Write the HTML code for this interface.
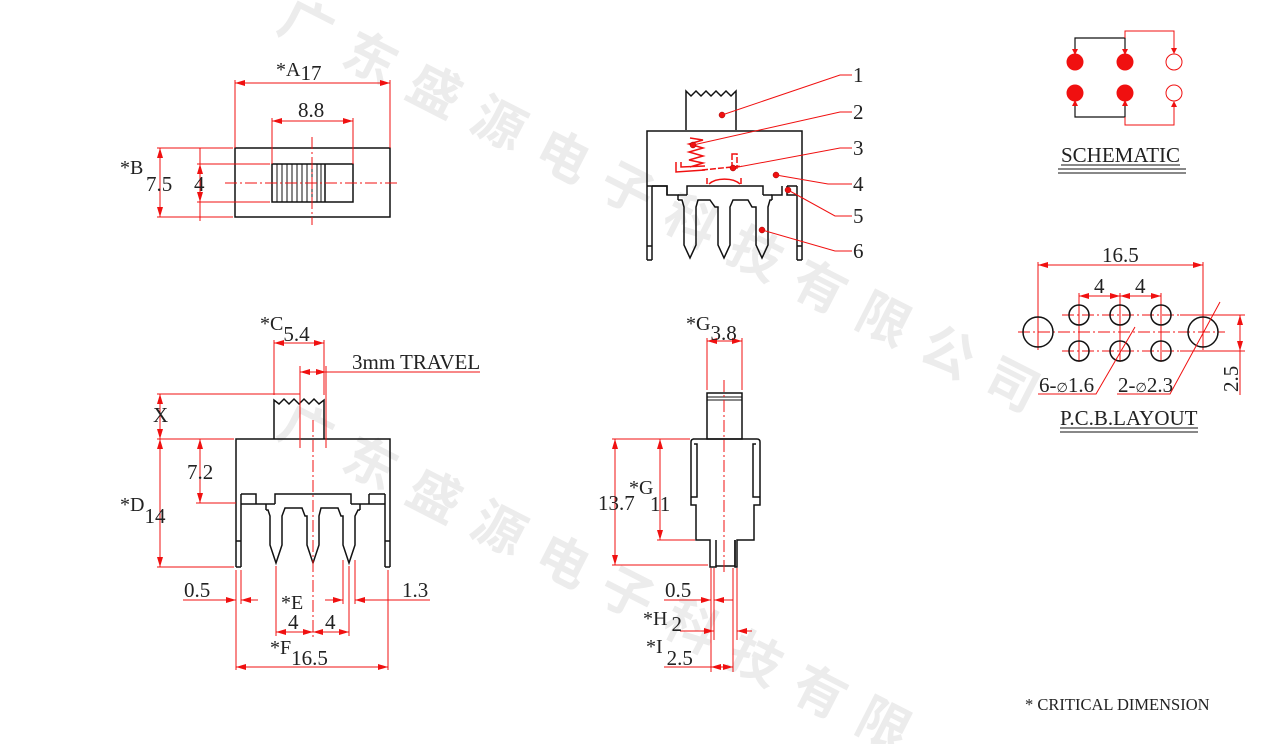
<!DOCTYPE html>
<html><head><meta charset="utf-8"><style>
html,body{margin:0;padding:0;background:#fff;width:1266px;height:744px;overflow:hidden}
svg{display:block}
text{font-family:"Liberation Serif",serif;fill:#222}
.wm{font-family:"Noto Sans CJK SC",sans-serif;font-size:52px;fill:#ececec;font-weight:bold}
.r{stroke:#f01010;stroke-width:1;fill:none}
.k{stroke:#111;stroke-width:1.5;fill:none}
.c{stroke:#f01010;stroke-width:1;fill:none;stroke-dasharray:12 3 2 3}
</style></head><body>
<svg width="1266" height="744" viewBox="0 0 1266 744" overflow="hidden" xmlns="http://www.w3.org/2000/svg">
<defs>
<marker id="a" viewBox="0 0 10 6" refX="10" refY="3" markerWidth="10" markerHeight="6" orient="auto-start-reverse" markerUnits="userSpaceOnUse"><path d="M0,0L10,3L0,6z" fill="#f01010"/></marker>
</defs>
<text class="wm" transform="translate(275,30) rotate(27)" letter-spacing="20">广东盛源电子科技有限公司</text>
<text class="wm" transform="translate(275,435) rotate(27)" letter-spacing="20">广东盛源电子科技有限</text>

<!-- TOP-LEFT VIEW -->
<rect x="235" y="148" width="155" height="69" class="k"/>
<rect x="272" y="164" width="81" height="38" class="k"/>
<g stroke="#111" stroke-width="1">
<line x1="277" y1="164" x2="277" y2="202"/><line x1="282" y1="164" x2="282" y2="202"/><line x1="287" y1="164" x2="287" y2="202"/><line x1="292" y1="164" x2="292" y2="202"/><line x1="297" y1="164" x2="297" y2="202"/><line x1="302" y1="164" x2="302" y2="202"/><line x1="307" y1="164" x2="307" y2="202"/><line x1="312" y1="164" x2="312" y2="202"/><line x1="317" y1="164" x2="317" y2="202"/><line x1="321" y1="164" x2="321" y2="202"/>
</g>
<line x1="325" y1="164" x2="325" y2="202" class="k"/>
<line x1="225" y1="183" x2="400" y2="183" class="c"/>
<line x1="312" y1="137" x2="312" y2="225" class="c"/>
<line x1="235" y1="80" x2="235" y2="148" class="r"/><line x1="390" y1="80" x2="390" y2="148" class="r"/>
<line x1="235" y1="83" x2="390" y2="83" class="r" marker-start="url(#a)" marker-end="url(#a)"/>
<text x="276" y="76" font-size="20">*A<tspan font-size="21" dy="4">17</tspan></text>
<line x1="272" y1="118" x2="272" y2="164" class="r"/><line x1="353" y1="118" x2="353" y2="164" class="r"/>
<line x1="272" y1="121" x2="353" y2="121" class="r" marker-start="url(#a)" marker-end="url(#a)"/>
<text x="298" y="117" font-size="21">8.8</text>
<line x1="157" y1="148" x2="233" y2="148" class="r"/><line x1="157" y1="217" x2="233" y2="217" class="r"/>
<line x1="160" y1="148" x2="160" y2="217" class="r" marker-start="url(#a)" marker-end="url(#a)"/>
<line x1="197" y1="164" x2="270" y2="164" class="r"/><line x1="197" y1="202" x2="270" y2="202" class="r"/>
<line x1="200" y1="148" x2="200" y2="221" class="r"/>
<line x1="200" y1="164" x2="200" y2="202" class="r" marker-start="url(#a)" marker-end="url(#a)"/>
<text x="120" y="174" font-size="20">*B</text>
<text x="146" y="191" font-size="21">7.5</text>
<text x="194" y="191" font-size="21">4</text>

<!-- TOP-MID VIEW -->
<path d="M686,130 L686,91 L691,96 L696,91 L701,96 L706,91 L711,96 L716,91 L721,96 L726,91 L731,96 L736,91 L736,130" class="k"/>
<path d="M647,260 L647,131 L802,131 L802,260 M652,260 L652,186 M797,260 L797,186 M647,186 L667,186 L667,195 M647,246 L652,246 M797,246 L802,246 M647,260 L652,260 M797,260 L802,260" class="k" stroke-width="1.3"/>
<path d="M652,186 L667,186 L667,195 L678,195 L678,200 M782,186 L782,195 L772,195 L772,200 M687,195 L687,186 L763,186 L763,195 M787,186 L797,186 M787,186 L787,195 L797,195" class="k" stroke-width="1.3"/>
<path d="M678,200 L682,200 L684,207 L684,245 L690,258 L696,245 L696,207 L698,200 L710,200 L715,207 L718,207 L718,245 L724,258 L730,245 L730,207 L733,200 L748,200 L752,207 L756,207 L756,245 L762,258 L768,245 L768,207 L770,200 L772,200" class="k" stroke-width="1.3"/>
<path d="M678,195 L687,195 M763,195 L772,195" class="k"/>
<path d="M709,184 A18,10 0 0 1 740,184 M707,184 L707,178 M741,184 L741,178" stroke="#f01010" stroke-width="1.5" fill="none"/>
<path d="M690,138 L703,140 L689,144 L703,148 L689,152 L703,156 L689,160 L703,163 L690,167 M676,162 L676,172 L705,170 M681,162 L681,167 L705,166" stroke="#f01010" stroke-width="1.5" fill="none"/>
<path d="M702,170 L742,166 M732,154 L732,168 L737,168 L737,154z" stroke="#f01010" stroke-width="1.5" fill="none" stroke-dasharray="6 2"/>
<g fill="#f01010" stroke="#900" stroke-width="0.5">
<circle cx="722" cy="115" r="3"/><circle cx="693" cy="145" r="3"/><circle cx="733" cy="168" r="3"/><circle cx="776" cy="175" r="3"/><circle cx="788" cy="190" r="3"/><circle cx="762" cy="230" r="3"/>
</g>
<g class="r">
<path d="M722,115 L840,75 L852,75"/><path d="M693,145 L840,112 L852,112"/><path d="M733,168 L840,148 L852,148"/><path d="M776,175 L828,184 L852,184"/><path d="M788,190 L835,216 L852,216"/><path d="M762,230 L835,251 L852,251"/>
</g>
<g font-size="21"><text x="853" y="82">1</text><text x="853" y="119">2</text><text x="853" y="155">3</text><text x="853" y="191">4</text><text x="853" y="223">5</text><text x="853" y="258">6</text></g>

<!-- BOTTOM-LEFT VIEW -->
<path d="M274,439 L274,400 L279,404 L284,399 L289,404 L294,399 L299,404 L304,399 L309,404 L314,399 L319,404 L324,400 L324,439" class="k"/>
<path d="M236,567 L236,439 L390,439 L390,567 M241,567 L241,494 M385,567 L385,494 M236,567 L241,567 M385,567 L390,567 M236,541 L241,541 M385,541 L390,541" class="k" stroke-width="1.3"/>
<path d="M241,494 L256,494 L256,504 L266,504 L266,510 M241,504 L256,504 M369,494 L385,494 M369,494 L369,504 L385,504 M369,504 L360,504 L360,510 M275,504 L275,494 L351,494 L351,504 M266,504 L275,504 M351,504 L360,504" class="k" stroke-width="1.3"/>
<path d="M266,510 L268,510 L270,516 L270,545 L276,563 L282,545 L282,516 L285,508 L302,508 L305,516 L307,516 L307,545 L313,563 L319,545 L319,516 L321,508 L338,508 L341,516 L343,516 L343,545 L349,563 L355,545 L355,516 L358,510 L360,510" class="k" stroke-width="1.3"/>
<line x1="313" y1="420" x2="313" y2="640" class="c"/>
<line x1="300" y1="366" x2="300" y2="448" class="r"/><line x1="326" y1="366" x2="326" y2="448" class="r"/>
<line x1="274" y1="340" x2="274" y2="395" class="r"/><line x1="324" y1="340" x2="324" y2="395" class="r"/>
<line x1="274" y1="343" x2="324" y2="343" class="r" marker-start="url(#a)" marker-end="url(#a)"/>
<line x1="300" y1="372" x2="326" y2="372" class="r" marker-start="url(#a)" marker-end="url(#a)"/>
<line x1="326" y1="372" x2="480" y2="372" class="r"/>
<text x="260" y="330" font-size="20">*C<tspan dy="11" font-size="21">5.4</tspan></text>
<text x="352" y="369" font-size="21">3mm TRAVEL</text>
<line x1="157" y1="394" x2="300" y2="394" class="r"/>
<line x1="157" y1="439" x2="234" y2="439" class="r"/>
<line x1="157" y1="567" x2="234" y2="567" class="r"/>
<line x1="196" y1="503" x2="236" y2="503" class="r"/>
<line x1="160" y1="394" x2="160" y2="439" class="r" marker-start="url(#a)" marker-end="url(#a)"/>
<line x1="160" y1="439" x2="160" y2="567" class="r" marker-start="url(#a)" marker-end="url(#a)"/>
<line x1="200" y1="439" x2="200" y2="503" class="r" marker-start="url(#a)" marker-end="url(#a)"/>
<text x="153" y="422" font-size="21">X</text>
<text x="187" y="479" font-size="21">7.2</text>
<text x="120" y="511" font-size="20">*D<tspan dy="12" font-size="21">14</tspan></text>
<line x1="236" y1="570" x2="236" y2="670" class="r"/><line x1="241" y1="570" x2="241" y2="604" class="r"/>
<line x1="388" y1="570" x2="388" y2="670" class="r"/>
<line x1="276" y1="566" x2="276" y2="636" class="r"/><line x1="349" y1="566" x2="349" y2="636" class="r"/>
<line x1="343" y1="560" x2="343" y2="604" class="r"/><line x1="355" y1="560" x2="355" y2="604" class="r"/>
<line x1="183" y1="600" x2="236" y2="600" class="r" marker-end="url(#a)"/>
<line x1="258" y1="600" x2="241" y2="600" class="r" marker-end="url(#a)"/>
<line x1="325" y1="600" x2="343" y2="600" class="r" marker-end="url(#a)"/>
<line x1="430" y1="600" x2="355" y2="600" class="r" marker-end="url(#a)"/>
<text x="184" y="597" font-size="21">0.5</text>
<text x="402" y="597" font-size="21">1.3</text>
<line x1="276" y1="632" x2="313" y2="632" class="r" marker-start="url(#a)" marker-end="url(#a)"/>
<line x1="313" y1="632" x2="349" y2="632" class="r" marker-start="url(#a)" marker-end="url(#a)"/>
<text x="281" y="609" font-size="20">*E</text>
<text x="288" y="629" font-size="21">4</text><text x="325" y="629" font-size="21">4</text>
<line x1="236" y1="667" x2="388" y2="667" class="r" marker-start="url(#a)" marker-end="url(#a)"/>
<text x="270" y="654" font-size="20">*F<tspan dy="11" font-size="21">16.5</tspan></text>

<!-- BOTTOM-MID VIEW -->
<rect x="707" y="393" width="35" height="46" class="k"/>
<line x1="707" y1="397" x2="742" y2="397" stroke="#111"/><line x1="707" y1="400" x2="742" y2="400" stroke="#111"/>
<path d="M693,439 L757,439 Q760,439 760,442 L760,505 L754,505 L754,540 L737,540 L737,567 L735,567 L735,540 M691,442 Q691,439 694,439 M691,442 L691,505 L696,505 L696,540 L710,540 L710,567 L716,567 L716,566 L735,566" class="k" stroke-width="1.3"/>
<path d="M694,444 L697,444 L697,497 L694,497 M756,444 L753,444 L753,497 L756,497 M691,497 L696,497 M754,497 L760,497 M716,540 L716,566 M735,540 L735,566" class="k" stroke-width="1.3"/>
<line x1="724" y1="380" x2="724" y2="575" class="c"/>
<line x1="707" y1="338" x2="707" y2="390" class="r"/><line x1="742" y1="338" x2="742" y2="390" class="r"/>
<line x1="707" y1="341" x2="742" y2="341" class="r" marker-start="url(#a)" marker-end="url(#a)"/>
<text x="686" y="330" font-size="20">*G<tspan dy="10" font-size="21">3.8</tspan></text>
<line x1="612" y1="439" x2="690" y2="439" class="r"/>
<line x1="612" y1="565" x2="708" y2="565" class="r"/>
<line x1="657" y1="540" x2="695" y2="540" class="r"/>
<line x1="615" y1="439" x2="615" y2="565" class="r" marker-start="url(#a)" marker-end="url(#a)"/>
<line x1="660" y1="439" x2="660" y2="540" class="r" marker-start="url(#a)" marker-end="url(#a)"/>
<text x="598" y="510" font-size="21">13.7</text>
<text x="629" y="494" font-size="20">*G</text>
<text x="650" y="511" font-size="21">11</text>
<line x1="711" y1="568" x2="711" y2="672" class="r"/><line x1="714" y1="568" x2="714" y2="640" class="r"/>
<line x1="733" y1="568" x2="733" y2="672" class="r"/><line x1="737" y1="568" x2="737" y2="640" class="r"/>
<line x1="664" y1="600" x2="711" y2="600" class="r" marker-end="url(#a)"/>
<line x1="733" y1="600" x2="714" y2="600" class="r" marker-end="url(#a)"/>
<text x="665" y="597" font-size="21">0.5</text>
<line x1="680" y1="631" x2="714" y2="631" class="r" marker-end="url(#a)"/>
<line x1="752" y1="631" x2="737" y2="631" class="r" marker-end="url(#a)"/>
<text x="643" y="625" font-size="20">*H<tspan dx="4" dy="6" font-size="21">2</tspan></text>
<line x1="664" y1="667" x2="711" y2="667" class="r"/>
<line x1="711" y1="667" x2="733" y2="667" class="r" marker-start="url(#a)" marker-end="url(#a)"/>
<text x="646" y="653" font-size="20">*I<tspan dx="4" dy="12" font-size="21">2.5</tspan></text>

<!-- SCHEMATIC -->
<path d="M1075,54 L1075,38 L1125,38 L1125,54 M1075,101 L1075,117 L1125,117 L1125,101" stroke="#111" stroke-width="1.2" fill="none"/>
<path d="M1125,38 L1125,31 L1174,31 L1174,52 M1125,117 L1125,125 L1174,125 L1174,103" class="r"/>
<g fill="#f01010"><path d="M1072,49 L1078,49 L1075,55z"/><path d="M1122,49 L1128,49 L1125,55z"/><path d="M1171,48 L1177,48 L1174,54z"/><path d="M1072,106 L1078,106 L1075,100z"/><path d="M1122,106 L1128,106 L1125,100z"/><path d="M1171,107 L1177,107 L1174,101z"/></g>
<g fill="#f01010"><circle cx="1075" cy="62" r="8.5"/><circle cx="1125" cy="62" r="8.5"/><circle cx="1075" cy="93" r="8.5"/><circle cx="1125" cy="93" r="8.5"/></g>
<circle cx="1174" cy="62" r="8" class="r" stroke-width="1.3"/><circle cx="1174" cy="93" r="8" class="r" stroke-width="1.3"/>
<text x="1061" y="162" font-size="21">SCHEMATIC</text>
<line x1="1061" y1="165" x2="1180" y2="165" stroke="#111"/>
<line x1="1058" y1="169" x2="1186" y2="169" stroke="#111"/><line x1="1058" y1="173" x2="1186" y2="173" stroke="#111"/>

<!-- PCB -->
<line x1="1018" y1="332" x2="1225" y2="332" class="c"/>
<line x1="1062" y1="315" x2="1180" y2="315" class="c"/>
<line x1="1062" y1="351" x2="1180" y2="351" class="c"/>
<line x1="1180" y1="315" x2="1245" y2="315" class="r"/><line x1="1180" y1="351" x2="1245" y2="351" class="r"/>
<line x1="1038" y1="262" x2="1038" y2="350" class="r"/><line x1="1203" y1="262" x2="1203" y2="350" class="r"/>
<line x1="1079" y1="293" x2="1079" y2="362" class="r"/><line x1="1120" y1="293" x2="1120" y2="362" class="r"/><line x1="1161" y1="293" x2="1161" y2="362" class="r"/>
<g class="k" stroke-width="1.3">
<circle cx="1038" cy="332" r="15"/><circle cx="1203" cy="332" r="15"/>
<circle cx="1079" cy="315" r="10"/><circle cx="1120" cy="315" r="10"/><circle cx="1161" cy="315" r="10"/>
<circle cx="1079" cy="351" r="10"/><circle cx="1120" cy="351" r="10"/><circle cx="1161" cy="351" r="10"/>
</g>
<line x1="1038" y1="265" x2="1203" y2="265" class="r" marker-start="url(#a)" marker-end="url(#a)"/>
<text x="1102" y="262" font-size="21">16.5</text>
<line x1="1079" y1="296" x2="1120" y2="296" class="r" marker-start="url(#a)" marker-end="url(#a)"/>
<line x1="1120" y1="296" x2="1161" y2="296" class="r" marker-start="url(#a)" marker-end="url(#a)"/>
<text x="1094" y="293" font-size="21">4</text><text x="1135" y="293" font-size="21">4</text>
<line x1="1240" y1="315" x2="1240" y2="351" class="r" marker-start="url(#a)" marker-end="url(#a)"/>
<line x1="1240" y1="351" x2="1240" y2="395" class="r"/>
<text transform="translate(1238,392) rotate(-90)" font-size="21">2.5</text>
<path d="M1038,394 L1096,394 L1135,327" class="r"/>
<path d="M1117,394 L1170,394 L1220,302" class="r"/>
<text x="1039" y="392" font-size="21">6-<tspan font-size="13">∅</tspan>1.6</text>
<text x="1118" y="392" font-size="21">2-<tspan font-size="13">∅</tspan>2.3</text>
<text x="1060" y="425" font-size="21">P.C.B.LAYOUT</text>
<line x1="1060" y1="428" x2="1198" y2="428" stroke="#111"/>
<line x1="1060" y1="432" x2="1198" y2="432" stroke="#111"/>

<text x="1025" y="710" font-size="16.5">* CRITICAL  DIMENSION</text>
</svg>
</body></html>
